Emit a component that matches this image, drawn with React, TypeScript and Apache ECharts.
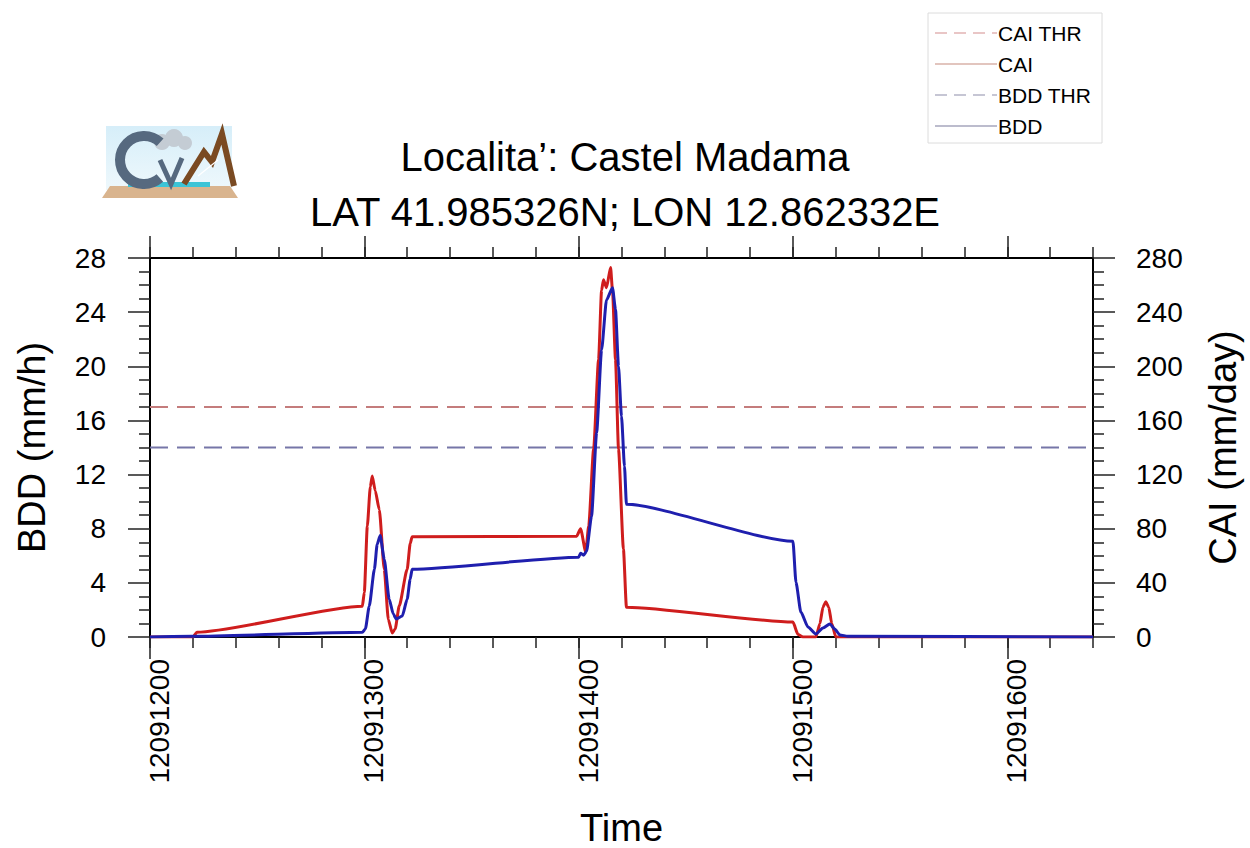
import React, { useEffect, useRef } from 'react';
import * as echarts from 'echarts';

const FONT = '"Liberation Sans", Arial, Helvetica, sans-serif';

const X_MIN = 12091200;
const X_MAX = 12091640;
const timeTicks = [12091200, 12091300, 12091400, 12091500, 12091600];

const titleLine1 = 'Localita\u2019: Castel Madama';
const titleLine2 = 'LAT 41.985326N; LON 12.862332E';

const caiThreshold = 170; // mm/day
const bddThreshold = 14; // mm/h

// CAI (mm/day), right axis
const caiPoints: [number, number][] = [
  [12091200, 0], [12091220, 0], [12091221.9, 3.5], [12091299.1, 22.8],
  [12091300, 33], [12091301.4, 82], [12091302.8, 111], [12091303.7, 119],
  [12091305.1, 108], [12091307, 94], [12091309.3, 50], [12091311.2, 13],
  [12091313, 3], [12091314.4, 6], [12091316.3, 23], [12091320, 50],
  [12091321.4, 69], [12091322.3, 74], [12091399.1, 74.5], [12091400.9, 80],
  [12091403.3, 63], [12091404.7, 82], [12091407, 139], [12091409.3, 205],
  [12091410.7, 256], [12091411.6, 264], [12091413, 258], [12091414.9, 273],
  [12091415.8, 256], [12091417.2, 205], [12091418.6, 139], [12091420.9, 65],
  [12091422.3, 22], [12091500, 11], [12091502.3, 2], [12091504.7, 0],
  [12091510.7, 0], [12091512.6, 10], [12091514, 22], [12091515.3, 26],
  [12091516.7, 22], [12091518.1, 10], [12091520, 0], [12091640, 0],
];

// BDD (mm/h), left axis
const bddPoints: [number, number][] = [
  [12091200, 0], [12091220, 0.05], [12091299.1, 0.35], [12091300.5, 0.6],
  [12091302.3, 2.28], [12091304.7, 5.0], [12091306, 6.85], [12091307.4, 7.5],
  [12091309.3, 5.75], [12091311.6, 2.8], [12091313.5, 1.7], [12091314.9, 1.33],
  [12091317.7, 1.55], [12091320, 2.8], [12091321.4, 4.27], [12091322.3, 5.0],
  [12091400, 5.9], [12091400.9, 6.19], [12091402.3, 6.04], [12091403.7, 6.34],
  [12091406, 8.9], [12091408.4, 15.1], [12091410.7, 21.2], [12091413, 24.9],
  [12091415.8, 25.8], [12091417.2, 24.2], [12091418.6, 20], [12091420, 16.3],
  [12091421.4, 12.6], [12091422.3, 9.8], [12091500, 7.07], [12091501.4, 4.05],
  [12091503.7, 1.84], [12091507, 0.74], [12091510.7, 0.22], [12091514, 0.66],
  [12091517.2, 0.96], [12091519.5, 0.59], [12091521.9, 0.15], [12091525.6, 0.05],
  [12091640, 0],
];

const legendNames = ['CAI THR', 'CAI', 'BDD THR', 'BDD'];
const legendColors = ['#e2b4b4', '#d9b2a8', '#b4b4c6', '#a6a6bc'];
const legendDashed = [true, false, true, false];

const RED = '#cf1d1d';
const BLUE = '#1f1fae';
const RED_THR = '#c47c7c';
const BLUE_THR = '#7676a8';

const tickStyle = { color: '#222', width: 1.5 };

function buildOption(): echarts.EChartsOption {
  const xCommon = {
    type: 'value' as const,
    min: X_MIN,
    max: X_MAX,
    interval: 20,
    splitLine: { show: false },
  };
  const legendGraphics: any[] = [
    {
      type: 'rect',
      shape: { x: 928, y: 13, width: 174, height: 130 },
      style: { fill: '#fff', stroke: '#dcdcdc', lineWidth: 1 },
    },
  ];
  legendNames.forEach((name, i) => {
    const y = 33 + i * 31;
    legendGraphics.push({
      type: 'line',
      shape: { x1: 935, y1: y, x2: 997, y2: y },
      style: {
        stroke: legendColors[i],
        lineWidth: 1.5,
        lineDash: legendDashed[i] ? [12, 7] : null,
      },
    });
    legendGraphics.push({
      type: 'text',
      x: 998,
      y,
      style: {
        text: name,
        fill: '#000',
        font: `21px ${FONT}`,
        verticalAlign: 'middle',
        align: 'left',
      },
    });
  });

  const logo: any[] = [
    {
      type: 'rect',
      shape: { x: 106, y: 126, width: 126, height: 64 },
      style: {
        fill: new echarts.graphic.LinearGradient(0, 0, 0, 1, [
          { offset: 0, color: '#d6eef9' },
          { offset: 1, color: '#eef8fc' },
        ]),
      },
    },
    {
      type: 'polygon',
      shape: { points: [[110, 186], [230, 186], [238, 198], [102, 198]] },
      style: { fill: '#d9b48e' },
    },
    { type: 'rect', shape: { x: 128, y: 182, width: 82, height: 5 }, style: { fill: '#3cc4d6' } },
    { type: 'circle', shape: { cx: 162, cy: 142, r: 8 }, style: { fill: '#c4ccd4' } },
    { type: 'circle', shape: { cx: 174, cy: 138, r: 9 }, style: { fill: '#c4ccd4' } },
    { type: 'circle', shape: { cx: 185, cy: 143, r: 7 }, style: { fill: '#c4ccd4' } },
    {
      type: 'arc',
      shape: { cx: 144, cy: 160, r: 24, startAngle: 0.85, endAngle: 5.45, clockwise: true },
      style: { stroke: '#56697f', lineWidth: 10, fill: 'none' },
    },
    {
      type: 'polyline',
      shape: { points: [[160, 160], [171, 184], [182, 158]] },
      style: { stroke: '#56697f', lineWidth: 5, fill: 'none' },
    },
    {
      type: 'polyline',
      shape: { points: [[184, 184], [204, 152], [212, 162], [222, 134], [234, 186]] },
      style: { stroke: '#7a4a22', lineWidth: 6, fill: 'none' },
    },
    {
      type: 'polyline',
      shape: { points: [[198, 176], [208, 168], [218, 160]] },
      style: { stroke: '#ffffff', lineWidth: 1.2, fill: 'none' },
    },
  ];

  return {
    animation: false,
    backgroundColor: '#fff',
    textStyle: { fontFamily: FONT },
    title: {
      text: `${titleLine1}\n${titleLine2}`,
      left: 'center',
      top: 129,
      padding: 0,
      textStyle: {
        fontFamily: FONT,
        fontSize: 40,
        fontWeight: 'normal',
        color: '#000',
        lineHeight: 55,
      },
    },
    grid: { left: 150, right: 153, top: 258, bottom: 210, containLabel: false },
    xAxis: [
      {
        ...xCommon,
        position: 'bottom',
        name: 'Time',
        nameLocation: 'middle',
        nameGap: 172,
        nameTextStyle: { fontSize: 38, color: '#000', fontFamily: FONT },
        axisLine: { show: true, onZero: false, lineStyle: { color: '#000', width: 2 } },
        axisTick: { show: true, length: 11, lineStyle: tickStyle },
        axisLabel: {
          show: true,
          customValues: timeTicks,
          rotate: 90,
          margin: 22,
          fontSize: 28,
          lineHeight: 19,
          verticalAlign: 'top',
          color: '#000',
          fontFamily: FONT,
          formatter: (v: number) => String(v),
        },
      },
      {
        ...xCommon,
        position: 'bottom',
        axisLine: { show: false, onZero: false },
        axisTick: { show: true, length: 22, customValues: timeTicks, lineStyle: tickStyle },
        axisLabel: { show: false },
      },
      {
        ...xCommon,
        position: 'top',
        axisLine: { show: true, onZero: false, lineStyle: { color: '#000', width: 2 } },
        axisTick: { show: true, length: 11, lineStyle: tickStyle },
        axisLabel: { show: false },
      },
      {
        ...xCommon,
        position: 'top',
        axisLine: { show: false, onZero: false },
        axisTick: { show: true, length: 22, customValues: timeTicks, lineStyle: tickStyle },
        axisLabel: { show: false },
      },
    ] as any,
    yAxis: [
      {
        type: 'value',
        position: 'left',
        min: 0,
        max: 28,
        interval: 4,
        name: 'BDD (mm/h)',
        nameLocation: 'middle',
        nameRotate: 90,
        nameGap: 99,
        nameTextStyle: { fontSize: 38, color: '#000', fontFamily: FONT },
        axisLine: { show: true, onZero: false, lineStyle: { color: '#000', width: 2 } },
        axisTick: { show: true, length: 22, lineStyle: tickStyle },
        minorTick: { show: true, splitNumber: 4, length: 11, lineStyle: tickStyle },
        axisLabel: { margin: 44, fontSize: 28, color: '#000', fontFamily: FONT },
        splitLine: { show: false },
        minorSplitLine: { show: false },
      },
      {
        type: 'value',
        position: 'right',
        min: 0,
        max: 280,
        interval: 40,
        name: 'CAI (mm/day)',
        nameLocation: 'middle',
        nameRotate: 90,
        nameGap: 111,
        nameTextStyle: { fontSize: 38, color: '#000', fontFamily: FONT },
        axisLine: { show: true, onZero: false, lineStyle: { color: '#000', width: 2 } },
        axisTick: { show: true, length: 22, lineStyle: tickStyle },
        minorTick: { show: true, splitNumber: 4, length: 11, lineStyle: tickStyle },
        axisLabel: { margin: 43, fontSize: 28, color: '#000', fontFamily: FONT },
        splitLine: { show: false },
        minorSplitLine: { show: false },
      },
    ],
    series: [
      {
        name: 'CAI THR',
        type: 'line',
        xAxisIndex: 0,
        yAxisIndex: 1,
        symbol: 'none',
        data: [[X_MIN, caiThreshold], [X_MAX, caiThreshold]],
        lineStyle: { color: RED_THR, width: 2, type: [18, 9] },
        z: 2,
      },
      {
        name: 'BDD THR',
        type: 'line',
        xAxisIndex: 0,
        yAxisIndex: 0,
        symbol: 'none',
        data: [[X_MIN, bddThreshold], [X_MAX, bddThreshold]],
        lineStyle: { color: BLUE_THR, width: 2, type: [18, 9] },
        z: 2,
      },
      {
        name: 'CAI',
        type: 'line',
        xAxisIndex: 0,
        yAxisIndex: 1,
        symbol: 'none',
        smooth: 0.2,
        smoothMonotone: 'x',
        data: caiPoints,
        lineStyle: { color: RED, width: 3 },
        z: 3,
      },
      {
        name: 'BDD',
        type: 'line',
        xAxisIndex: 0,
        yAxisIndex: 0,
        symbol: 'none',
        smooth: 0.2,
        smoothMonotone: 'x',
        data: bddPoints,
        lineStyle: { color: BLUE, width: 3 },
        z: 4,
      },
    ],
    graphic: [...logo, ...legendGraphics],
  } as echarts.EChartsOption;
}

export default function App() {
  const ref = useRef<HTMLDivElement>(null);
  useEffect(() => {
    if (!ref.current) return;
    const chart = echarts.init(ref.current, null, { renderer: 'svg' });
    chart.setOption(buildOption());
    return () => {
      chart.dispose();
    };
  }, []);
  return (
    <div
      ref={ref}
      style={{ position: 'absolute', left: 0, top: 0, width: 1250, height: 848, background: '#fff' }}
    />
  );
}
